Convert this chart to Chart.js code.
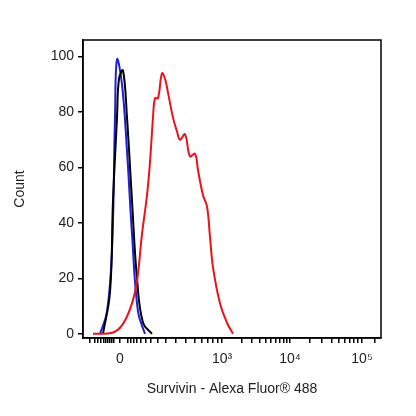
<!DOCTYPE html>
<html><head><script src="https://cdn.jsdelivr.net/npm/chart.js@4"></script>
<style>html,body{margin:0;background:#fff}#c{width:416px;height:416px}</style></head>
<body><div id="c"><canvas id="cv" width="416" height="416"></canvas></div>
<script>
const xTickPos = [120, 222, 290, 362];
const xTickLabels = ['0', '10³', '10⁴', '10⁵'];
const minorTicks = [90,95,98,101,104,106,108,110,112,114,128,131,134,137,141,146,151,158,166,176,186,195,202,208,213,218,242,252,260,266,271,276,280,284,287,310,322,332,339,345,350,354,358,375];
const redX = [93,113,123,132,137,142,147,150,153,155,158,162,165,168,173,177,180,185,190,195,198,203,207,210,213,220,227,233];
const redY = [0,0.5,3.6,11,19,36,50,62,78,85,85,94,92,87,78,73,70,72,64,65,59,50,46,35,24,11,4,0];
const blueX = [100,107,112,115,117,122,127,132,138,145];
const blueY = [0,8,30,78,99,90,66,36,8,0];
const blackX = [103,110,113,117,119,123,127,132,137,143,152];
const blackY = [0,15,48,78,92,95,78,48,20,4,0];
const pts=(xs,ys)=>xs.map((x,i)=>({x,y:ys[i]}));
const ds=(xs,ys,c)=>({data:pts(xs,ys),borderColor:c,borderWidth:2,pointRadius:0,tension:0.4,fill:false});
const frame={id:'frame',afterDraw(ch){const a=ch.chartArea,c=ch.ctx;c.save();c.strokeStyle='#000';c.lineWidth=1.5;c.strokeRect(a.left,a.top,a.right-a.left,a.bottom-a.top);c.restore();}};
const f={family:'Liberation Sans',size:14};
new Chart(document.getElementById('cv'),{type:'line',
data:{datasets:[ds(redX,redY,'#e8141c'),ds(blackX,blackY,'#000'),ds(blueX,blueY,'#1f1fd6')]},
options:{responsive:false,animation:false,plugins:{legend:{display:false},tooltip:{enabled:false}},
layout:{padding:{left:8,right:35,top:40,bottom:14}},
scales:{
x:{type:'linear',min:83,max:381,
 afterBuildTicks(s){s.ticks=[...xTickPos.map(v=>({value:v,major:true})),...minorTicks.map(v=>({value:v}))];},
 afterFit(s){s.height=64;},
 ticks:{autoSkip:false,maxRotation:0,color:'#222',font:f,padding:8,
  callback(v){const i=xTickPos.indexOf(v);return i>=0?xTickLabels[i]:'';}},
 grid:{drawOnChartArea:false,drawTicks:true,tickLength:5,color:'#000',lineWidth:1.5},border:{color:'#000',width:1.5},
 title:{display:true,text:'Survivin - Alexa Fluor® 488',color:'#222',font:f,padding:{top:6}}},
y:{min:-1.5,max:106,
 afterBuildTicks(s){s.ticks=[0,20,40,60,80,100].map(v=>({value:v}));},
 afterFit(s){s.width=75;},
 ticks:{color:'#222',font:f,padding:4},
 grid:{drawOnChartArea:false,drawTicks:true,tickLength:5,color:'#000',lineWidth:1.5},border:{color:'#000',width:1.5},
 title:{display:true,text:'Count',color:'#222',font:f,padding:{bottom:14}}}}},
plugins:[frame]});
</script></body></html>
